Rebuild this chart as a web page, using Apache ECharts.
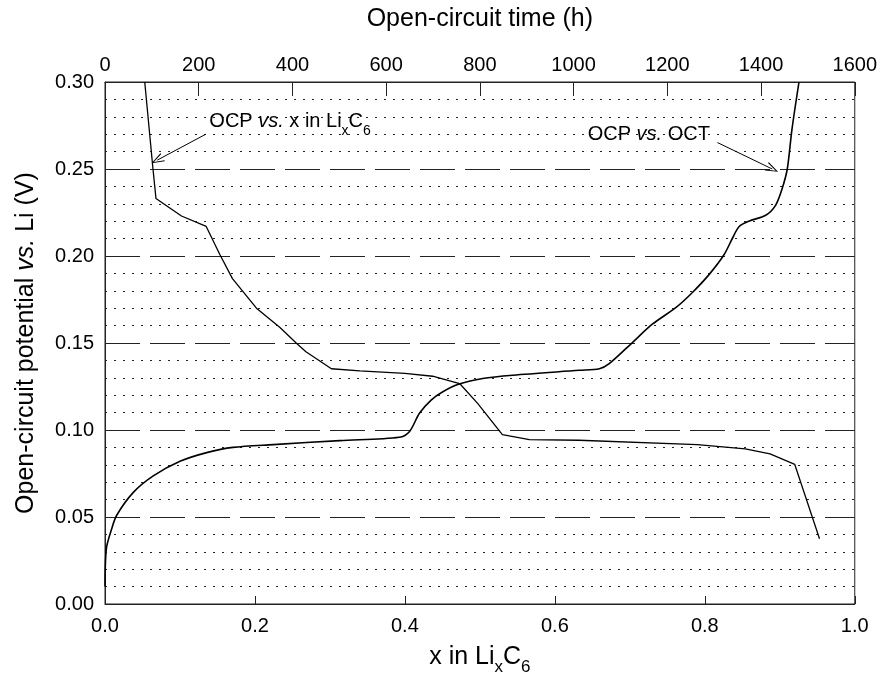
<!DOCTYPE html>
<html>
<head>
<meta charset="utf-8">
<script src="https://cdn.jsdelivr.net/npm/echarts@6/dist/echarts.min.js"></script>
<style>
  html, body { margin: 0; padding: 0; background: #fff; }
  #main { width: 880px; height: 681px; }
</style>
</head>
<body>
<div id="main"></div>
<script>
// OCP vs. x in LixC6 (bottom axis)
const xLi = [0.053, 0.064, 0.068, 0.102, 0.135, 0.153, 0.170, 0.202, 0.233, 0.255, 0.268, 0.302,
  0.340, 0.400, 0.437, 0.473, 0.497, 0.530, 0.566, 0.632, 0.790, 0.854, 0.887, 0.920, 0.953];
const ocpX = [0.300, 0.250, 0.233, 0.223, 0.217, 0.201, 0.187, 0.170, 0.159, 0.150, 0.145, 0.1352,
  0.1340, 0.1325, 0.1309, 0.1267, 0.1153, 0.0973, 0.0945, 0.0941, 0.0916, 0.0891, 0.0863, 0.0802, 0.0375];

// OCP vs. open-circuit time (top axis, hours)
const octHours = [0, 3, 14, 25, 60, 103, 160, 217, 273, 359, 501, 628, 650, 671, 696, 721, 756, 806,
  870, 1012, 1055, 1076, 1126, 1168, 1218, 1253, 1289, 1321, 1339, 1353, 1374, 1410, 1431, 1445, 1456, 1466, 1481];
const ocpT = [0.010, 0.032, 0.043, 0.051, 0.064, 0.0736, 0.082, 0.087, 0.090, 0.0916, 0.0939, 0.0958,
  0.0992, 0.1096, 0.1172, 0.122, 0.1264, 0.1296, 0.1315, 0.1343, 0.1352, 0.1381, 0.1504, 0.1608, 0.1703,
  0.1789, 0.1893, 0.2007, 0.2102, 0.2168, 0.2200, 0.2234, 0.2291, 0.2387, 0.2500, 0.2728, 0.3000];

// annotation anchors: [text position, arrow tail, arrow head]
const noteX = [[0.1385, 0.2765], [0.1345, 0.270], [0.0697, 0.2551]];
const noteT = [[1029, 0.2695], [1307, 0.2652], [1424, 0.2500]];

const FONT = 'Liberation Sans';
const openArrow = 'path://M0,0L5,12L4,12.5L0,2.6L-4,12.5L-5,12Z';

function pairs(xs, ys) {
  return xs.map((x, i) => [x, ys[i]]);
}

const subRich = {
  n: { fontFamily: FONT, fontSize: 20, lineHeight: 22, verticalAlign: 'top', color: '#000' },
  i: { fontFamily: FONT, fontSize: 20, lineHeight: 22, verticalAlign: 'top', fontStyle: 'italic', color: '#000' },
  s: { fontFamily: FONT, fontSize: 14, lineHeight: 14, verticalAlign: 'top', padding: [12, 0, 0, 0], color: '#000' }
};
const titleRich = {
  n: { fontFamily: FONT, fontSize: 25, lineHeight: 27, verticalAlign: 'top', color: '#000' },
  i: { fontFamily: FONT, fontSize: 25, lineHeight: 27, verticalAlign: 'top', fontStyle: 'italic', color: '#000' },
  s: { fontFamily: FONT, fontSize: 17, lineHeight: 17, verticalAlign: 'top', padding: [14, 0, 0, 0], color: '#000' }
};

const axisLine = { show: true, lineStyle: { color: '#222', width: 1 } };
const tickLabel = { color: '#000', fontFamily: FONT, fontSize: 20 };

const option = {
  animation: false,
  backgroundColor: '#fff',
  grid: { left: 105, right: 24, top: 82, bottom: 72, show: true, borderColor: '#222', borderWidth: 1 },
  xAxis: [
    {
      type: 'value', position: 'bottom', min: 0, max: 1, interval: 0.2,
      axisLine: axisLine,
      axisTick: { show: true, inside: true, length: 8, lineStyle: { color: '#222' } },
      axisLabel: Object.assign({ margin: 12, formatter: v => v.toFixed(1) }, tickLabel),
      splitLine: { show: false },
      name: '{n|x in Li}{s|x}{n|C}{s|6}',
      nameLocation: 'middle', nameGap: 41,
      nameTextStyle: { rich: titleRich }
    },
    {
      type: 'value', position: 'top', min: 0, max: 1600, interval: 200,
      axisLine: axisLine,
      axisTick: { show: true, inside: true, length: 14, lineStyle: { color: '#222' } },
      axisLabel: Object.assign({ margin: 7, formatter: v => String(v) }, tickLabel),
      splitLine: { show: false },
      name: 'Open-circuit time (h)',
      nameLocation: 'middle', nameGap: 50,
      nameTextStyle: { fontFamily: FONT, fontSize: 25, color: '#000' }
    }
  ],
  yAxis: {
    type: 'value', min: 0, max: 0.30, interval: 0.05,
    axisLine: axisLine,
    axisTick: { show: false },
    axisLabel: Object.assign({ margin: 11, formatter: v => v.toFixed(2) }, tickLabel),
    splitLine: { show: true, lineStyle: { color: '#222', width: 1, type: [35, 10] } },
    minorTick: { show: false, splitNumber: 5 },
    minorSplitLine: { show: true, lineStyle: { color: '#222', width: 1, type: [2, 7] } },
    name: '{n|Open-circuit potential }{i|vs.}{n| Li (V)}',
    nameLocation: 'middle', nameRotate: 90, nameGap: 64,
    nameTextStyle: { rich: titleRich }
  },
  series: [
    {
      name: 'OCP vs. x',
      type: 'line', xAxisIndex: 0, yAxisIndex: 0,
      data: pairs(xLi, ocpX),
      showSymbol: false, smooth: false,
      lineStyle: { color: '#000', width: 1.3 },
      markLine: {
        silent: true, animation: false,
        symbol: ['none', openArrow], symbolSize: [9, 13],
        lineStyle: { color: '#000', width: 1, type: 'solid' },
        label: { show: false },
        data: [[{ coord: noteX[1] }, { coord: noteX[2] }]]
      },
      markPoint: {
        silent: true, symbol: 'circle', symbolSize: 1,
        itemStyle: { color: 'transparent' },
        label: { show: true, position: 'right', distance: 0, formatter: '{n|OCP }{i|vs.}{n| x in Li}{s|x}{n|C}{s|6}', rich: subRich },
        data: [{ coord: noteX[0] }]
      }
    },
    {
      name: 'OCP vs. OCT',
      type: 'line', xAxisIndex: 1, yAxisIndex: 0,
      data: pairs(octHours, ocpT),
      showSymbol: false, smooth: 0.3,
      lineStyle: { color: '#000', width: 1.6 },
      markLine: {
        silent: true, animation: false,
        symbol: ['none', openArrow], symbolSize: [9, 13],
        lineStyle: { color: '#000', width: 1, type: 'solid' },
        label: { show: false },
        data: [[{ coord: noteT[1] }, { coord: noteT[2] }]]
      },
      markPoint: {
        silent: true, symbol: 'circle', symbolSize: 1,
        itemStyle: { color: 'transparent' },
        label: { show: true, position: 'right', distance: 0, formatter: '{n|OCP }{i|vs.}{n| OCT}', rich: subRich },
        data: [{ coord: noteT[0] }]
      }
    }
  ]
};

var myChart = echarts.init(document.getElementById('main'));
myChart.setOption(option);
window.onresize = function() {
  myChart.resize();
};
</script>
</body>
</html>
